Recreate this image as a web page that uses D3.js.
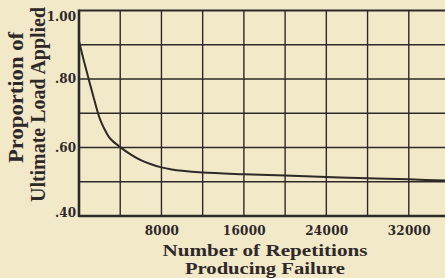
<!DOCTYPE html>
<html>
<head>
<meta charset="utf-8">
<script src="https://cdn.jsdelivr.net/npm/d3@7"></script>
<style>
    body { margin: 0; background: #f2e9c8; }
    svg { display: block; }
    text { fill: #2e2828; font-family: "Liberation Serif", "DejaVu Serif", serif; }
</style>
</head>
<body>
<svg id="chart"></svg>
<script>
//number of repetitions
var repetitions = [0, 500, 1000, 1500, 2000, 2500, 3000, 4000, 5000, 6000, 7000, 8000, 9000, 10000, 12000, 16000, 20000, 24000, 28000, 32000, 36000];
//proportion of ultimate load applied at each of those points
var proportion = [0.91, 0.85, 0.793, 0.737, 0.686, 0.652, 0.627, 0.601, 0.58, 0.563, 0.551, 0.542, 0.536, 0.532, 0.527, 0.522, 0.518, 0.514, 0.51, 0.507, 0.503];

//tick labels
var xTickValues = [8000, 16000, 24000, 32000];
var yTickValues = [0.40, 0.60, 0.80, 1.00];
var yTickLabels = [".40", ".60", ".80", "1.00"];

var xTitleLines = ["Number of Repetitions", "Producing Failure"];
var yTitleLines = ["Proportion of", "Ultimate Load Applied"];

function runScript () {

    var width = 445;
    var height = 278;

    //plot box, the right edge runs off the picture
    var left = 79;
    var top = 10.5;
    var bottom = 216;
    var right = 450;

    var ink = "#2e2828";

    var svg = d3.select("#chart")
        .attr("width", width)
        .attr("height", height);

    var xScale = d3.scaleLinear().domain([0, 36000]).range([left, right]);
    var yScale = d3.scaleLinear().domain([0.40, 1.00]).range([bottom, top]);

    //grid lines every 4000 and every .10
    svg.append("g")
        .selectAll("line")
        .data(d3.range(4000, 36001, 4000))
        .enter()
        .append("line")
        .attr("x1", function (d) {return xScale(d)})
        .attr("x2", function (d) {return xScale(d)})
        .attr("y1", top)
        .attr("y2", bottom)
        .style("stroke", ink)
        .attr("stroke-width", 1.4);

    svg.append("g")
        .selectAll("line")
        .data(d3.range(0.5, 0.95, 0.1))
        .enter()
        .append("line")
        .attr("x1", left)
        .attr("x2", right)
        .attr("y1", function (d) {return yScale(d)})
        .attr("y2", function (d) {return yScale(d)})
        .style("stroke", ink)
        .attr("stroke-width", 1.3);

    //heavier frame
    svg.append("line")
        .attr("x1", left).attr("x2", right)
        .attr("y1", top).attr("y2", top)
        .style("stroke", ink).attr("stroke-width", 2.2);
    svg.append("line")
        .attr("x1", left).attr("x2", right)
        .attr("y1", bottom).attr("y2", bottom)
        .style("stroke", ink).attr("stroke-width", 2.6);
    svg.append("line")
        .attr("x1", left).attr("x2", left)
        .attr("y1", top - 1).attr("y2", bottom + 1)
        .style("stroke", ink).attr("stroke-width", 2.6);

    //axes for the labels only, no tick marks
    var xAxis = d3.axisBottom(xScale)
        .tickValues(xTickValues)
        .tickSize(0)
        .tickPadding(10)
        .tickFormat(d3.format("d"));

    var xg = svg.append("g")
        .attr("transform", "translate(0," + bottom + ")")
        .call(xAxis);
    xg.select(".domain").remove();
    xg.selectAll("text")
        .style("font-family", "'DejaVu Serif', serif")
        .style("font-size", "12px")
        .style("font-weight", "bold")
        .style("letter-spacing", "0.3px")
        .attr("fill", ink);

    var yAxis = d3.axisLeft(yScale)
        .tickValues(yTickValues)
        .tickSize(0)
        .tickPadding(3)
        .tickFormat(function (d, i) {return yTickLabels[i]});

    var yg = svg.append("g")
        .attr("transform", "translate(" + left + ",0)")
        .call(yAxis);
    yg.select(".domain").remove();
    //end labels sit inside the frame a little
    yg.selectAll("text")
        .style("font-family", "'DejaVu Serif', serif")
        .style("font-size", "12px")
        .style("font-weight", "bold")
        .attr("fill", ink)
        .attr("dy", function (d) {
            if (d >= 1) return "0.8em";
            if (d <= 0.4) return "0.05em";
            return "0.32em";
        });

    //the curve
    var line = d3.line()
        .x(function (d) {return xScale(d[0])})
        .y(function (d) {return yScale(d[1])})
        .curve(d3.curveCatmullRom.alpha(0.5));

    svg.append("path")
        .datum(d3.zip(repetitions, proportion))
        .attr("d", line)
        .style("fill", "none")
        .style("stroke", ink)
        .attr("stroke-width", 2);

    //x title, one text with two lines
    var xTitleY = [255.5, 273.5];
    var xTitleLen = [205, 160];
    svg.append("text")
        .attr("class", "xTitle")
        .attr("text-anchor", "middle")
        .style("font-size", "16.2px")
        .style("font-weight", "bold")
        .selectAll("tspan")
        .data(xTitleLines)
        .enter()
        .append("tspan")
        .attr("x", 265)
        .attr("y", function (d, i) {return xTitleY[i]})
        .attr("textLength", function (d, i) {return xTitleLen[i]})
        .attr("lengthAdjust", "spacingAndGlyphs")
        .text(function (d) {return d});

    //y title, rotated
    var yTitleX = [23, 45];
    var yTitleMid = [97.5, 104.5];
    var yTitleLen = [131, 195];
    svg.selectAll(".yTitle")
        .data(yTitleLines)
        .enter()
        .append("text")
        .attr("class", "yTitle")
        .attr("transform", function (d, i) {
            return "translate(" + yTitleX[i] + "," + yTitleMid[i] + ") rotate(-90)";
        })
        .attr("text-anchor", "middle")
        .attr("textLength", function (d, i) {return yTitleLen[i]})
        .attr("lengthAdjust", "spacingAndGlyphs")
        .style("font-size", "20px")
        .style("font-weight", "bold")
        .text(function (d) {return d});
}

window.onload = runScript;
</script>
</body>
</html>
